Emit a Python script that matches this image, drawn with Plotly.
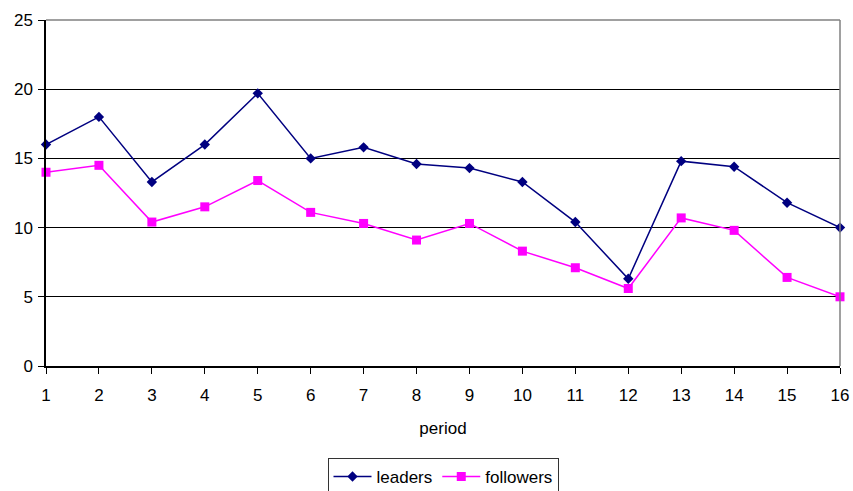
import plotly.graph_objects as go

periods = list(range(1, 17))
leaders = [16.0, 18.0, 13.3, 16.0, 19.7, 15.0, 15.8, 14.6, 14.3, 13.3, 10.4, 6.3, 14.8, 14.4, 11.8, 10.0]
followers = [14.0, 14.5, 10.4, 11.5, 13.4, 11.1, 10.3, 9.1, 10.3, 8.3, 7.1, 5.6, 10.7, 9.8, 6.4, 5.0]
y_ticks = [0, 5, 10, 15, 20, 25]

FONT = "Liberation Sans, Arial, sans-serif"

fig = go.Figure()
fig.add_trace(go.Scatter(
    x=periods, y=leaders, name="leaders", mode="lines+markers",
    line=dict(color="#000080", width=1.5),
    marker=dict(symbol="diamond", size=8, color="#000080"),
    cliponaxis=False,
))
fig.add_trace(go.Scatter(
    x=periods, y=followers, name="followers", mode="lines+markers",
    line=dict(color="#FF00FF", width=1.5),
    marker=dict(symbol="square", size=9, color="#FF00FF"),
    cliponaxis=False,
))

# gray frame on the top and right of the plot area
fig.add_shape(type="line", xref="paper", yref="paper", x0=0, x1=1, y0=1, y1=1,
              line=dict(color="#808080", width=1.5), layer="above")
fig.add_shape(type="line", xref="paper", yref="paper", x0=1, x1=1, y0=0, y1=1,
              line=dict(color="#808080", width=1.5), layer="above")

fig.update_layout(
    width=853, height=491,
    margin=dict(l=46, r=13, t=20, b=125, autoexpand=False),
    paper_bgcolor="white", plot_bgcolor="white",
    font=dict(family=FONT, size=17, color="#000"),
    showlegend=True,
    legend=dict(
        orientation="h", x=0.5, xanchor="center",
        yref="container", y=1 - 458 / 491, yanchor="top",
        bordercolor="#333", borderwidth=1, font=dict(size=17),
        itemwidth=38,
    ),
    xaxis=dict(
        range=[1, 16], tickmode="array", tickvals=periods,
        ticktext=[str(p) for p in periods],
        showline=True, linecolor="#000", linewidth=1.5,
        ticks="outside", ticklen=6, tickcolor="#000",
        showgrid=False, zeroline=False, automargin=False,
        ticklabelstandoff=7,
        title=dict(text="period", font=dict(size=17), standoff=18),
    ),
    yaxis=dict(
        range=[0, 25], tickmode="array", tickvals=y_ticks,
        showline=True, linecolor="#000", linewidth=1.5,
        ticks="outside", ticklen=6, tickcolor="#000",
        showgrid=True, gridcolor="#000", gridwidth=1, zeroline=False,
        automargin=False, ticklabelstandoff=2,
    ),
)

fig.write_html("out.html")
